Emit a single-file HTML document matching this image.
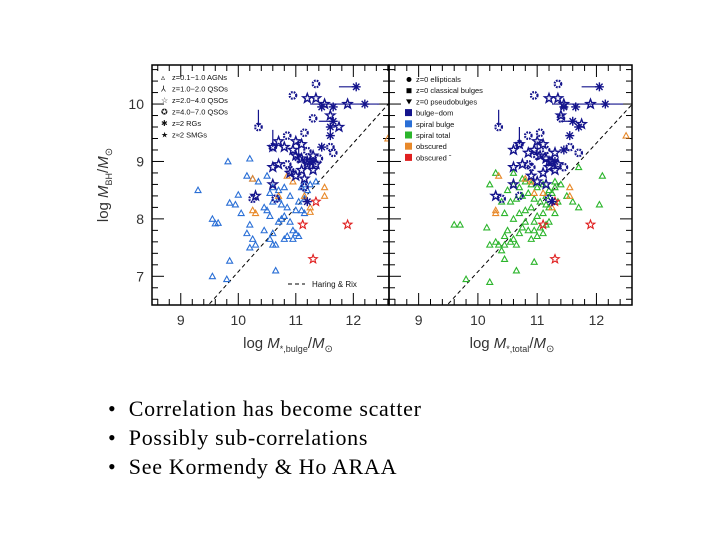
<!DOCTYPE html>
<html><head><meta charset="utf-8"><style>
html,body{margin:0;padding:0;background:#fff;width:720px;height:540px;overflow:hidden}
svg{display:block}
.bul{position:absolute;font-family:"Liberation Serif",serif;font-size:22px;letter-spacing:0.7px;color:#000;left:108px}
</style></head><body>
<svg id="c" width="720" height="540" xmlns="http://www.w3.org/2000/svg" font-family="Liberation Sans, sans-serif">
</svg>
<div class="bul" style="top:396px">•&nbsp;&nbsp;Correlation has become scatter</div>
<div class="bul" style="top:425px">•&nbsp;&nbsp;Possibly sub-correlations</div>
<div class="bul" style="top:454px">•&nbsp;&nbsp;See Kormendy &amp; Ho ARAA</div>
<script>
const xTicks=[9,10,11,12];
const yTicks=[7,8,9,10];
// left panel
const L_blueX=[9.3,9.82,10.2,9.55,9.6,9.65,9.85,9.95,10.0,10.05,9.85,9.55,9.8,10.15,10.25,10.35,10.5,10.2,10.15,10.25,10.2,10.3,10.45,10.5,10.55,10.6,10.55,10.6,10.65,10.6,10.55,10.7,10.75,10.8,10.9,10.95,10.85,10.95,11.0,11.05,10.8,11.0,11.1,11.15,10.65,10.7,10.75,10.85,10.8,10.6,11.1,11.2,11.15,11.25,11.35,10.45,10.7,11.15,11.05,10.9];
const L_blueY=[8.5,9.0,9.05,8.0,7.92,7.93,8.28,8.25,8.42,8.1,7.27,7.0,6.95,8.75,8.7,8.65,8.75,7.9,7.75,7.65,7.5,7.55,7.8,8.15,8.05,8.3,8.45,7.75,7.55,7.55,7.65,7.95,8.0,8.05,7.95,7.8,7.7,7.65,7.75,7.7,7.65,8.15,8.15,8.1,7.1,8.5,8.25,8.2,8.55,8.55,8.55,8.5,8.6,8.6,8.65,8.2,8.35,8.35,8.3,8.4];
const L_orX=[10.3,10.25,10.25,10.7,10.85,11.15,11.25,11.25,11.5,11.5,12.6,10.95];
const L_orY=[8.1,8.15,8.7,8.4,8.75,8.4,8.2,8.12,8.55,8.4,9.4,8.65];
const L_redX=[11.12,11.35,11.3,11.9];
const L_redY=[7.9,8.3,7.3,7.9];
const L_gearX=[11.35,10.95,10.35,11.3,10.85,11.15,10.6,11.2,11.6,11.65,10.9,10.85,11.05,11.4,10.65,10.25,11.15];
const L_gearY=[10.35,10.15,9.6,9.75,9.45,9.5,9.25,9.18,9.25,9.15,8.85,8.95,9.05,9.05,8.35,8.35,8.55];
const L_astX=[12.05,12.2,11.65,11.45,11.65,11.6,11.45,11.6,11.2,11.3];
const L_astY=[10.3,10.0,9.95,9.95,9.7,9.45,9.25,9.6,8.3,9.0];
const L_starX=[11.2,11.35,11.5,11.9,11.6,11.75,10.7,10.8,10.95,11.0,11.1,11.25,11.3,10.6,10.7,10.9,11.0,11.1,11.2,11.35,11.0,11.1,10.3,10.6,11.15,10.6,11.2,11.3];
const L_starY=[10.1,10.1,10.0,10.0,9.8,9.6,9.35,9.25,9.2,9.1,9.05,9.0,9.1,8.9,8.95,8.8,8.75,8.85,8.95,8.95,9.35,9.3,8.4,8.6,8.7,9.25,9.0,8.85];
// right panel
const R_grX=[9.6,9.7,10.2,10.15,10.3,10.35,10.4,10.45,10.45,10.5,10.55,10.6,10.65,10.7,10.75,10.8,10.85,10.9,10.95,11.0,11.05,11.1,11.15,11.2,10.6,10.7,10.8,10.9,11.0,11.1,11.2,11.3,10.55,10.65,10.75,10.85,10.95,11.05,11.15,11.25,11.35,10.4,10.5,10.6,10.7,10.8,10.9,11.0,11.1,11.2,11.3,11.4,10.2,10.3,11.5,11.6,11.7,12.1,12.05,11.7,9.8,10.2,10.65,10.95,10.45,10.6,10.45,11.3,10.75,11.15,10.95];
const R_grY=[7.9,7.9,7.55,7.85,7.6,7.55,7.45,7.55,7.7,7.8,7.6,7.65,7.55,7.75,7.85,7.95,7.8,7.65,7.8,7.7,7.85,7.75,7.9,7.95,8.0,8.1,8.15,8.2,8.05,8.1,8.2,8.1,8.3,8.35,8.4,8.45,8.35,8.3,8.4,8.45,8.3,8.3,8.5,8.6,8.55,8.65,8.6,8.55,8.6,8.5,8.55,8.6,8.6,8.8,8.4,8.3,8.2,8.75,8.25,8.9,6.95,6.9,7.1,7.25,7.3,8.8,8.1,8.65,8.7,8.25,7.95];
const R_orX=[10.3,10.3,10.35,10.8,10.95,11.1,11.25,11.55,11.55,12.5,10.9];
const R_orY=[8.1,8.15,8.75,8.7,8.45,8.45,8.2,8.55,8.4,9.45,8.65];
const R_redX=[11.1,11.3,11.3,11.9];
const R_redY=[7.9,8.3,7.3,7.9];
const R_gearX=[11.35,10.95,10.35,11.4,10.85,11.05,10.7,11.15,11.55,11.7,10.9,10.85,11.0,11.45,10.4,10.7,11.2];
const R_gearY=[10.35,10.15,9.6,9.75,9.45,9.5,9.3,9.2,9.25,9.15,8.9,8.95,9.1,8.9,8.35,8.4,8.35];
const R_astX=[12.05,12.15,11.65,11.45,11.6,11.55,11.45,11.7,11.25,11.3];
const R_astY=[10.3,10.0,9.95,9.95,9.7,9.45,9.2,9.6,8.3,9.0];
const R_starX=[11.2,11.35,11.45,11.9,11.4,11.75,10.7,10.85,10.95,11.05,11.15,11.25,11.3,10.6,10.75,10.9,11.0,11.1,11.2,11.35,11.0,11.1,10.3,10.6,11.15,10.6,11.2,11.3];
const R_starY=[10.1,10.1,10.0,10.0,9.8,9.65,9.3,9.15,9.2,9.1,9.05,9.0,9.15,8.9,8.95,8.75,8.65,8.8,8.9,8.95,9.35,9.3,8.4,8.6,8.6,9.2,9.0,8.85];

const NS='http://www.w3.org/2000/svg';
const svg=document.getElementById('c');
function mk(t,a,p){const e=document.createElementNS(NS,t);for(const k in a)e.setAttribute(k,a[k]);(p||svg).appendChild(e);return e;}
const NAVY='#14148c',BLUE='#2a6fd6',GREEN='#2cb52c',OR='#e8892a',RED='#e02020';
const panels=[
 {x0:152,x1:389,xmin:8.5,xmax:12.62,name:'bulge'},
 {x0:389,x1:632,xmin:8.5,xmax:12.6,name:'total'}];
const Y0=305,Y1=65,YMIN=6.5,YMAX=10.68;
function ys(v){return Y0-(v-YMIN)/(YMAX-YMIN)*(Y0-Y1);}
function tri(g,x,y,c,n){const s=3;const e=mk('polygon',{points:`${x},${y-s} ${x-s},${y+s*0.8} ${x+s},${y+s*0.8}`,fill:'none',stroke:c,'stroke-width':1.1},g);}
function star(g,x,y,c,n,r,w){let p='';for(let i=0;i<10;i++){const a=-Math.PI/2+i*Math.PI/5;const rr=i%2?r*0.42:r;p+=(x+rr*Math.cos(a)).toFixed(1)+','+(y+rr*Math.sin(a)).toFixed(1)+' ';}const e=mk('polygon',{points:p,fill:'none',stroke:c,'stroke-width':w},g);}
function gear(g,x,y,n){const e=mk('circle',{cx:x,cy:y,r:3.3,fill:'none',stroke:NAVY,'stroke-width':2.2,'stroke-dasharray':'1.7 1'},g);}
function ast(g,x,y,n){const e=mk('g',{stroke:NAVY,'stroke-width':1.4},g);for(let i=0;i<4;i++){const a=i*Math.PI/4;mk('line',{x1:x-4.5*Math.cos(a),y1:y-4.5*Math.sin(a),x2:x+4.5*Math.cos(a),y2:y+4.5*Math.sin(a)},e);}}

panels.forEach((P,pi)=>{
 const xs=v=>P.x0+(v-P.xmin)/(P.xmax-P.xmin)*(P.x1-P.x0);
 const g=mk('g',{});
 const fr=mk('rect',{x:P.x0,y:Y1,width:P.x1-P.x0,height:Y0-Y1,fill:'none',stroke:'#000','stroke-width':1.5},g);
 
 for(let v=8.6;v<P.xmax;v+=0.2){const x=xs(v);const maj=Math.abs(v-Math.round(v))<0.01;const l=maj?12:6;
  mk('line',{x1:x,y1:Y0,x2:x,y2:Y0-l,stroke:'#000','stroke-width':1},g);mk('line',{x1:x,y1:Y1,x2:x,y2:Y1+l,stroke:'#000','stroke-width':1},g);}
 for(let v=6.6;v<YMAX;v+=0.2){const y=ys(v);const maj=Math.abs(v-Math.round(v))<0.01;const l=maj?12:6;
  mk('line',{x1:P.x0,y1:y,x2:P.x0+l,y2:y,stroke:'#000','stroke-width':1},g);mk('line',{x1:P.x1,y1:y,x2:P.x1-l,y2:y,stroke:'#000','stroke-width':1},g);}
 xTicks.forEach(t=>{const e=mk('text',{x:xs(t),y:325,'text-anchor':'middle','font-size':14,fill:'#333'},g);e.textContent=t;});
 if(pi==0)yTicks.forEach(t=>{const e=mk('text',{x:144,y:ys(t)+5,'text-anchor':'end','font-size':14,fill:'#333'},g);e.textContent=t;});
 const cid='clip'+pi;const cp=mk('clipPath',{id:cid},svg);mk('rect',{x:P.x0,y:Y1,width:P.x1-P.x0,height:Y0-Y1},cp);
 const d=mk('g',{'clip-path':`url(#${cid})`},g);
 const ln=mk('line',{x1:xs(9.5),y1:ys(8.2+1.12*(9.5-11)),x2:xs(12.8),y2:ys(8.2+1.12*(12.8-11)),stroke:'#000','stroke-width':1,'stroke-dasharray':'4 3'},d);
 
 const D=pi==0?{tx:L_blueX,ty:L_blueY,tc:BLUE,ox:L_orX,oy:L_orY,rx:L_redX,ry:L_redY,gx:L_gearX,gy:L_gearY,ax:L_astX,ay:L_astY,sx:L_starX,sy:L_starY}
  :{tx:R_grX,ty:R_grY,tc:GREEN,ox:R_orX,oy:R_orY,rx:R_redX,ry:R_redY,gx:R_gearX,gy:R_gearY,ax:R_astX,ay:R_astY,sx:R_starX,sy:R_starY};
 [[0,11.75,12.05],[1,11.25,12.45],[4,11.4,11.65]].forEach(([i,a,b])=>{const e=mk('line',{x1:xs(a),y1:ys(D.ay[i]),x2:xs(b),y2:ys(D.ay[i]),stroke:NAVY,'stroke-width':1.2},d);});
 [[2,0.3],[12,0.25],[6,0.3]].forEach(([i,h])=>{const e=mk('line',{x1:xs(D.gx[i]),y1:ys(D.gy[i]),x2:xs(D.gx[i]),y2:ys(D.gy[i]+h),stroke:NAVY,'stroke-width':1.2},d);});
 D.tx.forEach((v,i)=>tri(d,xs(v),ys(D.ty[i]),D.tc,pi?'spiral-total-point':'spiral-bulge-point'));
 D.ox.forEach((v,i)=>tri(d,xs(v),ys(D.oy[i]),OR,'obscured-point'));
 D.rx.forEach((v,i)=>star(d,xs(v),ys(D.ry[i]),RED,'obscured-limit-point',4.5,1.1));
 D.sx.forEach((v,i)=>star(d,xs(v),ys(D.sy[i]),NAVY,'qso-star-point',4.8,1.4));
 D.gx.forEach((v,i)=>gear(d,xs(v),ys(D.gy[i]),'qso-z4-point'));
 D.ax.forEach((v,i)=>ast(d,xs(v),ys(D.ay[i]),'radio-galaxy-point'));
});
const leg1=mk('g',{'font-size':7.5,fill:'#111'});
['z=0.1−1.0 AGNs','z=1.0−2.0 QSOs','z=2.0−4.0 QSOs','z=4.0−7.0 QSOs','z≈2 RGs','z≈2 SMGs'].forEach((t,i)=>{const y=80+i*11.5;const e=mk('text',{x:172,y:y},leg1);e.textContent=t;mk('text',{x:161,y:y,'font-size':8},leg1).textContent=['▵','⅄','☆','✪','✱','★'][i];});
const leg2=mk('g',{'font-size':7.5,fill:'#111'});
const cols=['#000','#000','#000',NAVY,BLUE,GREEN,OR,RED];
['z=0 ellipticals','z=0 classical bulges','z=0 pseudobulges','bulge−dom','spiral bulge','spiral total','obscured','obscured ˇ'].forEach((t,i)=>{const y=82+i*11.2;const e=mk('text',{x:416,y:y},leg2);e.textContent=t;
 if(i==0)mk('circle',{cx:409,cy:y-2.5,r:2.5,fill:'#000'},leg2);else if(i==1)mk('rect',{x:406.5,y:y-5,width:5,height:5,fill:'#000'},leg2);else if(i==2)mk('polygon',{points:`${406},${y-5} ${412},${y-5} ${409},${y}`,fill:'#000'},leg2);else mk('rect',{x:405,y:y-6.5,width:7,height:7,fill:cols[i]},leg2);});
const hr=mk('g',{});
mk('line',{x1:288,y1:284,x2:305,y2:284,stroke:'#000','stroke-dasharray':'4 3'},hr);
mk('text',{x:312,y:287,'font-size':8,fill:'#111'},hr).textContent='Haring & Rix';
function title(x,y,html,rot,n){const e=mk('text',{x:x,y:y,'font-size':15,fill:'#333','text-anchor':'middle',transform:rot?`rotate(-90 ${x} ${y})`:''});e.innerHTML=html;}
title(108,185,'log <tspan font-style="italic">M</tspan><tspan font-size="9" dy="4">BH</tspan><tspan dy="-4">/</tspan><tspan font-style="italic">M</tspan><tspan font-size="10" dy="4">⊙</tspan>',true,'y-axis-title');
title(288,348,'log <tspan font-style="italic">M</tspan><tspan font-size="9" dy="4">*,bulge</tspan><tspan dy="-4">/</tspan><tspan font-style="italic">M</tspan><tspan font-size="10" dy="4">⊙</tspan>',false,'x-axis-title-bulge');
title(512,348,'log <tspan font-style="italic">M</tspan><tspan font-size="9" dy="4">*,total</tspan><tspan dy="-4">/</tspan><tspan font-style="italic">M</tspan><tspan font-size="10" dy="4">⊙</tspan>',false,'x-axis-title-total');
</script>
</body></html>
